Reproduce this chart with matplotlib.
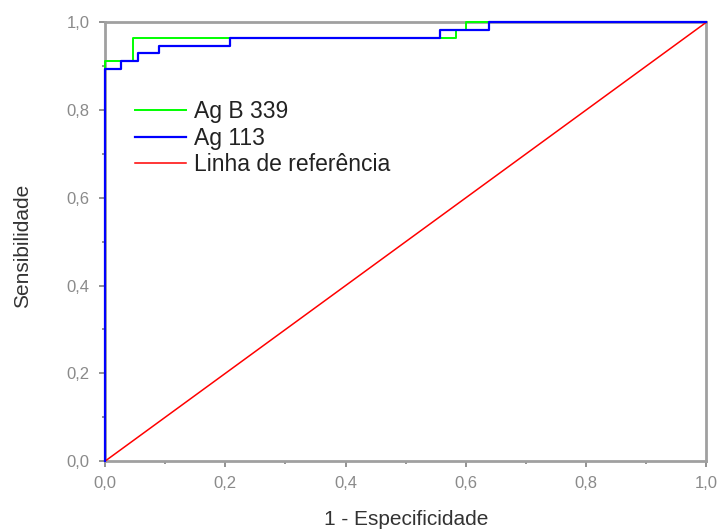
import numpy as np
import matplotlib
matplotlib.use('Agg')
import matplotlib.pyplot as plt

# ROC curves (1 - specificity, sensitivity)
fpr_b339 = [0.0, 0.0, 0.047, 0.047, 0.584, 0.584, 0.600, 0.600, 1.0]
tpr_b339 = [0.0, 0.911, 0.911, 0.964, 0.964, 0.982, 0.982, 1.0, 1.0]

fpr_113 = [0.0, 0.0, 0.027, 0.027, 0.054, 0.054, 0.090, 0.090, 0.208, 0.208,
           0.557, 0.557, 0.638, 0.638, 1.0]
tpr_113 = [0.0, 0.893, 0.893, 0.911, 0.911, 0.929, 0.929, 0.946, 0.946, 0.964,
           0.964, 0.982, 0.982, 1.0, 1.0]

ref_line = [0.0, 1.0]

plt.rcParams['font.family'] = ['Liberation Sans', 'DejaVu Sans']

fig = plt.figure(figsize=(7.2, 5.3), dpi=100)
ax = fig.add_axes([0.146, 0.130, 0.835, 0.828])

ax.plot(fpr_b339, tpr_b339, color='#00ff00', lw=1.4, label='Ag B 339',
        zorder=5, clip_on=False)
ax.plot(fpr_113, tpr_113, color='#0000ff', lw=1.6, label='Ag 113',
        zorder=6, clip_on=False)
ax.plot(ref_line, ref_line, color='#ff0000', lw=1.1, label='Linha de referência',
        zorder=4, clip_on=False)

ax.set_xlim(0, 1)
ax.set_ylim(0, 1)
ticks = np.arange(0, 1.01, 0.2)
labels = [f'{t:.1f}'.replace('.', ',') for t in ticks]
ax.set_xticks(ticks)
ax.set_xticklabels(labels)
ax.set_yticks(ticks)
ax.set_yticklabels(labels)
ax.set_xticks(np.arange(0.1, 1.0, 0.2), minor=True)
ax.set_yticks(np.arange(0.1, 1.0, 0.2), minor=True)
ax.tick_params(which='major', direction='out', length=4, width=1.2, color='#808080',
               labelcolor='#8a8a8a', labelsize=12, pad=7)
ax.tick_params(which='minor', direction='out', length=2.5, width=1.2, color='#808080')
for s in ax.spines.values():
    s.set_color('#a0a0a0')
    s.set_linewidth(2)
    s.set_zorder(3)

ax.set_xlabel('1 - Especificidade', fontsize=15, color='#333333', va='center')
ax.set_ylabel('Sensibilidade', fontsize=15, color='#333333', va='center')
ax.xaxis.set_label_coords(0.5, -0.132)
ax.yaxis.set_label_coords(-0.138, 0.49)

ax.legend(loc='upper left', bbox_to_anchor=(0.05, 0.823), frameon=False, fontsize=16.5,
          handlelength=2.2, handletextpad=0.35, labelspacing=0.165, labelcolor='#222222',
          borderaxespad=0, borderpad=0)

plt.savefig('out.png', dpi=100)
